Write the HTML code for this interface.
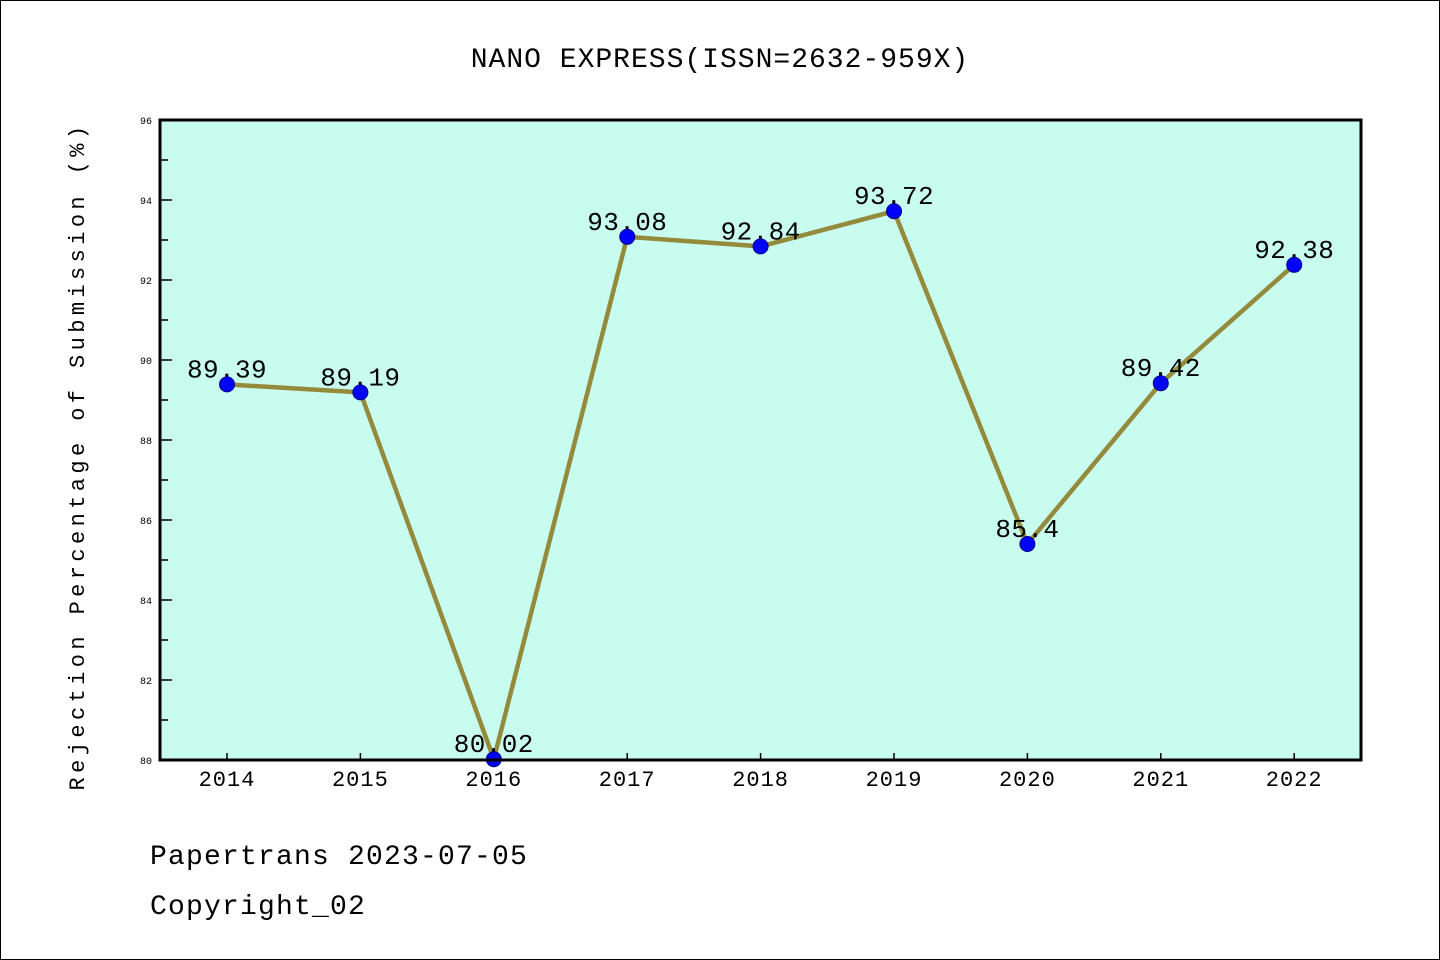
<!DOCTYPE html>
<html><head><meta charset="utf-8"><style>
html,body{margin:0;padding:0;background:#fff}
svg{display:block}
text{font-family:"Liberation Mono","DejaVu Sans Mono",monospace}
</style></head><body>
<svg id="chart" width="1440" height="960" viewBox="0 0 1440 960">
<rect x="0.5" y="0.5" width="1439" height="959" fill="#fff" stroke="#000"/>
<text x="720" y="67" font-size="28" letter-spacing="1" text-anchor="middle">NANO EXPRESS(ISSN=2632-959X)</text>
<rect x="160" y="120" width="1201" height="640" fill="#c8fcee"/>
<g id="axes"></g>
<g id="marks"></g>
<rect x="160" y="120" width="1201" height="640" fill="none" stroke="#000" stroke-width="3"/>
<text transform="translate(84,456) rotate(-90)" font-size="22" text-anchor="middle" letter-spacing="4.4">Rejection Percentage of Submission (%)</text>
<text x="150" y="864" font-size="28" letter-spacing="1.2">Papertrans 2023-07-05</text>
<text x="150" y="914" font-size="28" letter-spacing="1.2">Copyright_02</text>
</svg>
<script>
const years = ["2014","2015","2016","2017","2018","2019","2020","2021","2022"];
const rates = [89.39,89.19,80.02,93.08,92.84,93.72,85.4,89.42,92.38];
const yTicks = [80,82,84,86,88,90,92,94,96];
const NS="http://www.w3.org/2000/svg";
const x0=227, dx=133.4;
function xs(i){return x0+i*dx;}
function ys(v){return 760-(v-80)*40;}
function mk(t,a,p){const e=document.createElementNS(NS,t);for(const k in a)e.setAttribute(k,a[k]);p.appendChild(e);return e;}
const axes=document.getElementById('axes'), marks=document.getElementById('marks');
for(let v=80;v<=96;v++){
  const major=yTicks.includes(v);
  const l=mk('line',{x1:160,x2:major?172:168,y1:ys(v),y2:ys(v),stroke:'#000','stroke-width':1.5},axes);
  
  
}
yTicks.forEach(v=>{
  const t=mk('text',{x:152,y:ys(v)+4,'font-size':10,'text-anchor':'end'},axes);
  t.textContent=v;
  
  
});
years.forEach((y,i)=>{
  const l=mk('line',{x1:xs(i),x2:xs(i),y1:760,y2:753,stroke:'#000','stroke-width':1.5},axes);
  
  
  const t=mk('text',{x:xs(i),y:786,'font-size':22,'letter-spacing':1,'text-anchor':'middle'},axes);
  t.textContent=y;
  
  
});
const pts=rates.map((v,i)=>xs(i)+','+ys(v)).join(' ');
const line=mk('polyline',{points:pts,fill:'none',stroke:'#948a3c','stroke-width':4.5,'stroke-linejoin':'round'},marks);


rates.forEach((v,i)=>{
  const t=mk('text',{x:xs(i),y:ys(v)-7,'font-size':26,'letter-spacing':0.4,'text-anchor':'middle'},marks);
  t.textContent=String(v);
  
  
});
rates.forEach((v,i)=>{
  const c=mk('circle',{cx:xs(i),cy:ys(v),r:7.5,fill:'#0000ff',stroke:'#00008b','stroke-width':1},marks);
  
  
});
</script>
</body></html>
